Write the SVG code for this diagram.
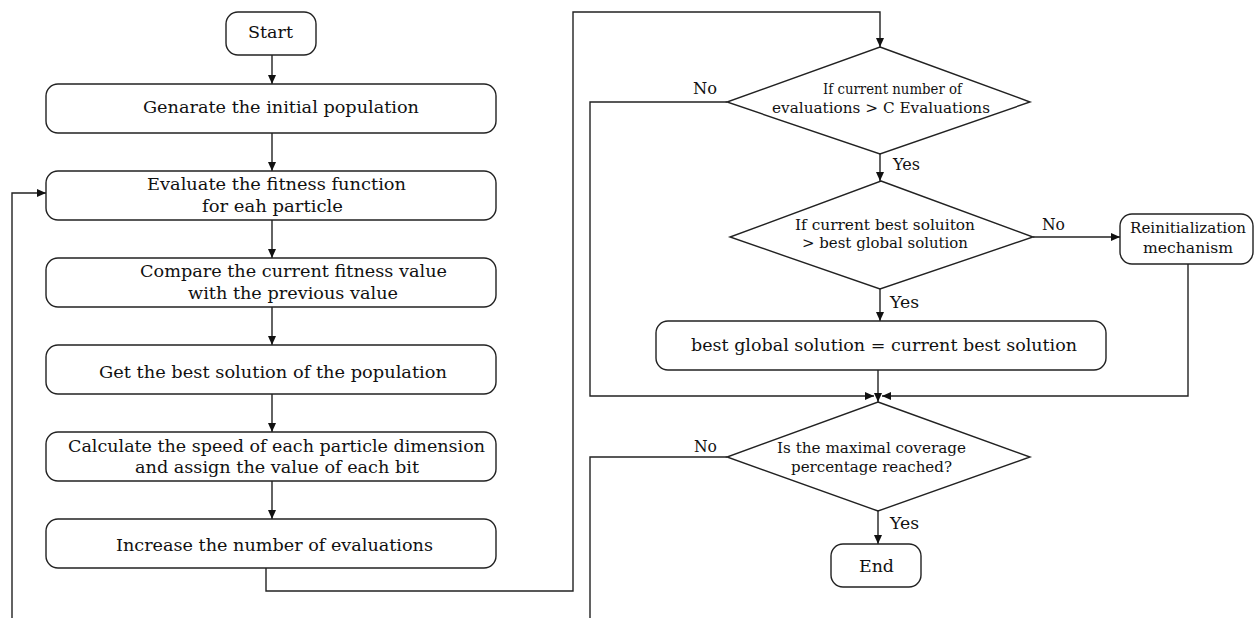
<svg xmlns="http://www.w3.org/2000/svg" width="1255" height="618" viewBox="0 0 1255 618">
<style>
.box{fill:#fff;stroke:#222;stroke-width:1.4}
.ln{fill:none;stroke:#222;stroke-width:1.4}
.arr{marker-end:url(#ah)}
text{font-family:"DejaVu Serif","Liberation Serif",serif;fill:#111}
.t16{font-size:17px}
.t15{font-size:16.5px}
.t14{font-size:15px}
.t13{font-size:14px}
.lbl{font-size:16px}
</style>
<defs>
<marker id="ah" markerUnits="userSpaceOnUse" markerWidth="10" markerHeight="8" refX="9" refY="4" orient="auto">
<path d="M0,0 L9,4 L0,8 Z" fill="#111"/>
</marker>
</defs>
<rect width="1255" height="618" fill="#fff"/>

<g id="connectors">
<line class="ln arr" x1="272" y1="55" x2="272" y2="84"/>
<line class="ln arr" x1="272" y1="133" x2="272" y2="171"/>
<line class="ln arr" x1="272" y1="220" x2="272" y2="258"/>
<line class="ln arr" x1="272" y1="307" x2="272" y2="345"/>
<line class="ln arr" x1="272" y1="394" x2="272" y2="432"/>
<line class="ln arr" x1="272" y1="481" x2="272" y2="519"/>
<polyline class="ln arr" points="266,568 266,591 573,591 573,12 880,12 880,47"/>
<polyline class="ln arr" points="727,102 590,102 590,396 874,396"/>
<line class="ln arr" x1="880" y1="154" x2="880" y2="181"/>
<line class="ln arr" x1="1033" y1="237" x2="1120" y2="237"/>
<line class="ln arr" x1="880" y1="289" x2="880" y2="321"/>
<line class="ln arr" x1="878" y1="370" x2="878" y2="402"/>
<polyline class="ln arr" points="1188,264 1188,396 882,396"/>
<polyline class="ln" points="727,457 590,457 590,618"/>
<line class="ln arr" x1="878" y1="511" x2="878" y2="544"/>
<polyline class="ln arr" points="12,618 12,193 46,193"/>
<text class="lbl" x="693" y="94" textLength="24" lengthAdjust="spacingAndGlyphs">No</text>
<text class="lbl" x="893" y="170" textLength="27" lengthAdjust="spacingAndGlyphs">Yes</text>
<text class="lbl" x="1042" y="230" textLength="23" lengthAdjust="spacingAndGlyphs">No</text>
<text class="lbl" x="890" y="308" textLength="29" lengthAdjust="spacingAndGlyphs">Yes</text>
<text class="lbl" x="694" y="452" textLength="23" lengthAdjust="spacingAndGlyphs">No</text>
<text class="lbl" x="890" y="529" textLength="29" lengthAdjust="spacingAndGlyphs">Yes</text>
</g>

<g id="start">
<rect class="box" x="226" y="12" width="90" height="43" rx="12"/>
<text class="t16" x="248" y="38" textLength="45" lengthAdjust="spacingAndGlyphs">Start</text>
</g>
<g id="generate">
<rect class="box" x="46" y="84" width="450" height="49" rx="12"/>
<text class="t16" x="143" y="113" textLength="276" lengthAdjust="spacingAndGlyphs">Genarate the initial population</text>
</g>
<g id="evaluate">
<rect class="box" x="46" y="171" width="450" height="49" rx="12"/>
<text class="t16" x="147" y="190" textLength="259" lengthAdjust="spacingAndGlyphs">Evaluate the fitness function</text>
<text class="t16" x="202" y="212" textLength="141" lengthAdjust="spacingAndGlyphs">for eah particle</text>
</g>
<g id="compare">
<rect class="box" x="46" y="258" width="450" height="49" rx="12"/>
<text class="t16" x="140" y="277" textLength="307" lengthAdjust="spacingAndGlyphs">Compare the current fitness value</text>
<text class="t16" x="188" y="299" textLength="210" lengthAdjust="spacingAndGlyphs">with the previous value</text>
</g>
<g id="getbest">
<rect class="box" x="46" y="345" width="450" height="49" rx="12"/>
<text class="t16" x="99" y="378" textLength="348" lengthAdjust="spacingAndGlyphs">Get the best solution of the population</text>
</g>
<g id="calculate">
<rect class="box" x="46" y="432" width="450" height="49" rx="12"/>
<text class="t16" x="68" y="452" textLength="417" lengthAdjust="spacingAndGlyphs">Calculate the speed of each particle dimension</text>
<text class="t16" x="135" y="473" textLength="284" lengthAdjust="spacingAndGlyphs">and assign the value of each bit</text>
</g>
<g id="increase">
<rect class="box" x="46" y="519" width="450" height="49" rx="12"/>
<text class="t16" x="116" y="551" textLength="317" lengthAdjust="spacingAndGlyphs">Increase the number of evaluations</text>
</g>
<g id="decision1">
<polygon class="box" points="880,47 1030,102 880,154 727,102"/>
<text class="t14" x="823" y="94" textLength="139" lengthAdjust="spacingAndGlyphs">If current number of</text>
<text class="t14" x="772" y="113" textLength="218" lengthAdjust="spacingAndGlyphs">evaluations &gt; C Evaluations</text>
</g>
<g id="decision2">
<polygon class="box" points="881,181 1033,237 880,289 730,237"/>
<text class="t13" x="795" y="230" textLength="180" lengthAdjust="spacingAndGlyphs">If current best soluiton</text>
<text class="t13" x="802" y="248" textLength="166" lengthAdjust="spacingAndGlyphs">&gt; best global solution</text>
</g>
<g id="reinit">
<rect class="box" x="1120" y="214" width="133" height="50" rx="12"/>
<text class="t13" x="1130" y="233" textLength="116" lengthAdjust="spacingAndGlyphs">Reinitialization</text>
<text class="t13" x="1143" y="253" textLength="90" lengthAdjust="spacingAndGlyphs">mechanism</text>
</g>
<g id="update">
<rect class="box" x="656" y="321" width="450" height="49" rx="12"/>
<text class="t15" x="691" y="351" textLength="386" lengthAdjust="spacingAndGlyphs">best global solution = current best solution</text>
</g>
<g id="decision3">
<polygon class="box" points="878,402 1030,457 878,511 727,457"/>
<text class="t14" x="777" y="453" textLength="189" lengthAdjust="spacingAndGlyphs">Is the maximal coverage</text>
<text class="t14" x="791" y="472" textLength="161" lengthAdjust="spacingAndGlyphs">percentage reached?</text>
</g>
<g id="end">
<rect class="box" x="831" y="544" width="90" height="43" rx="12"/>
<text class="t16" x="859" y="572" textLength="35" lengthAdjust="spacingAndGlyphs">End</text>
</g>
</svg>
